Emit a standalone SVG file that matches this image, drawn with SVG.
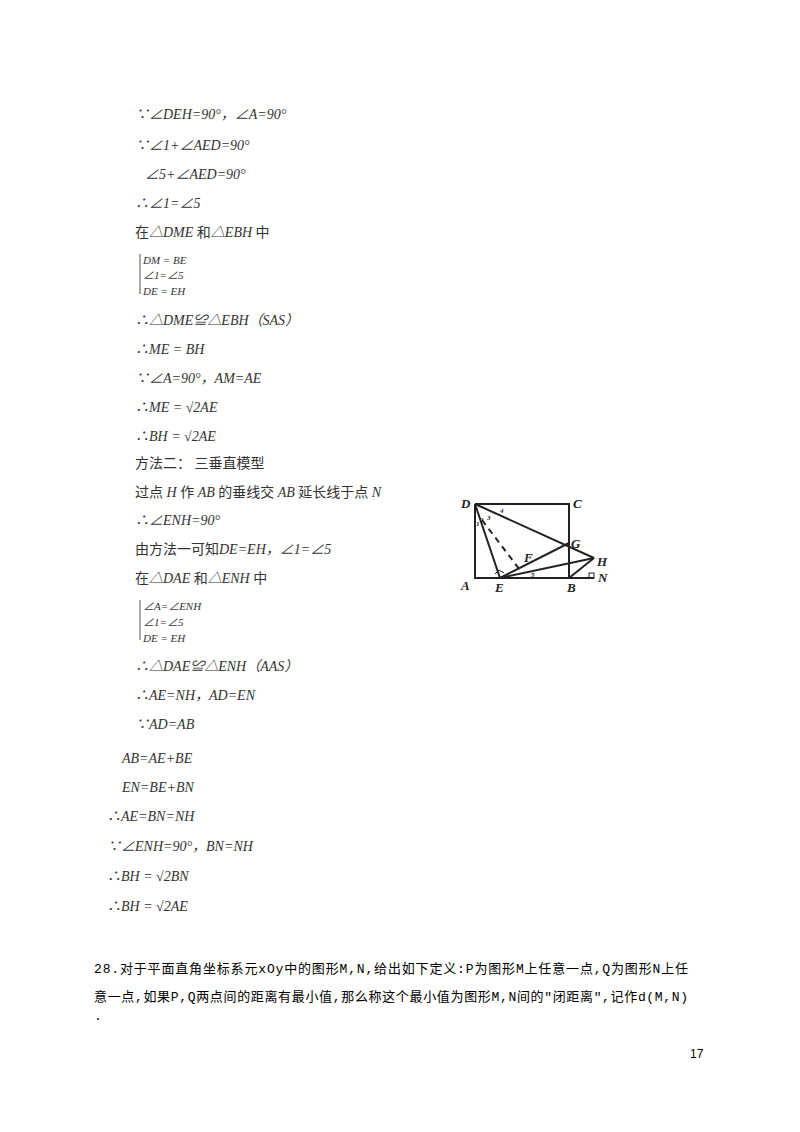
<svg xmlns="http://www.w3.org/2000/svg" width="800" height="1132" viewBox="0 0 800 1132">
<style>
text{font-family:"Liberation Serif","Noto Sans CJK SC",serif;font-size:14px;fill:#333}
.i{font-style:italic}
.s{font-size:11px}
.c{font-family:"Liberation Mono","Noto Sans CJK SC",monospace;font-size:13px;fill:#000}
.g line,.g polyline{stroke:#222;stroke-width:2;fill:none}
.l{font-family:"Liberation Serif",serif;font-style:italic;font-weight:bold;font-size:13px;fill:#222}
</style>
<rect width="800" height="1132" fill="#fff"/>
<g id="proof">
<text x="135" y="119" class="i">∵∠DEH=90°，∠A=90°</text>
<text x="135" y="150" class="i">∵∠1+∠AED=90°</text>
<text x="145" y="179" class="i">∠5+∠AED=90°</text>
<text x="135" y="208" class="i">∴∠1=∠5</text>
<text x="135" y="237">在<tspan class="i">△DME</tspan> 和<tspan class="i">△EBH</tspan> 中</text>
<path d="M140 254 v40" stroke="#555" fill="none"/>
<text x="143" y="264" class="i s">DM = BE</text>
<text x="143" y="279" class="i s">∠1=∠5</text>
<text x="143" y="295" class="i s">DE = EH</text>
<text x="135" y="325" class="i">∴△DME≌△EBH（SAS）</text>
<text x="135" y="354" class="i">∴ME = BH</text>
<text x="135" y="383" class="i">∵∠A=90°，AM=AE</text>
<text x="135" y="412" class="i">∴ME = √2AE</text>
<text x="135" y="441" class="i">∴BH = √2AE</text>
<text x="135" y="468">方法二：  三垂直模型</text>
<text x="135" y="497">过点 <tspan class="i">H</tspan> 作 <tspan class="i">AB</tspan> 的垂线交 <tspan class="i">AB</tspan> 延长线于点 <tspan class="i">N</tspan></text>
<text x="135" y="525" class="i">∴∠ENH=90°</text>
<text x="135" y="554">由方法一可知<tspan class="i">DE=EH，∠1=∠5</tspan></text>
<text x="135" y="583">在<tspan class="i">△DAE</tspan> 和<tspan class="i">△ENH</tspan> 中</text>
<path d="M140 600 v40" stroke="#555" fill="none"/>
<text x="143" y="610" class="i s">∠A=∠ENH</text>
<text x="143" y="626" class="i s">∠1=∠5</text>
<text x="143" y="642" class="i s">DE = EH</text>
<text x="135" y="671" class="i">∴△DAE≌△ENH（AAS）</text>
<text x="135" y="700" class="i">∴AE=NH，AD=EN</text>
<text x="135" y="729" class="i">∵AD=AB</text>
<text x="122" y="763" class="i">AB=AE+BE</text>
<text x="122" y="792" class="i">EN=BE+BN</text>
<text x="107" y="821" class="i">∴AE=BN=NH</text>
<text x="107" y="851" class="i">∵∠ENH=90°，BN=NH</text>
<text x="107" y="881" class="i">∴BH = √2BN</text>
<text x="107" y="911" class="i">∴BH = √2AE</text>
</g>
<g id="figure" class="g">
<polyline points="475,504 569,504 569,578 475,578 475,504"/>
<line x1="475" y1="504" x2="500" y2="578"/>
<line x1="475" y1="504" x2="594" y2="558"/>
<line x1="500" y1="578" x2="569" y2="543"/>
<line x1="500" y1="578" x2="594" y2="558"/>
<line x1="569" y1="578" x2="594" y2="558"/>
<line x1="569" y1="578" x2="594" y2="578"/>
<line x1="482" y1="520" x2="520" y2="570" stroke-dasharray="6,5"/>
<rect x="589" y="573" width="5" height="5" fill="none" stroke="#222" stroke-width="1"/>
<polyline points="495,574 499,570 504,573" style="stroke-width:1"/>
<text class="l" x="461" y="508">D</text>
<text class="l" x="573" y="508">C</text>
<text class="l" x="461" y="590">A</text>
<text class="l" x="495" y="592">E</text>
<text class="l" x="567" y="592">B</text>
<text class="l" x="571" y="548">G</text>
<text class="l" x="597" y="566">H</text>
<text class="l" x="598" y="582">N</text>
<text class="l" x="524" y="562">F</text>
<text class="l" x="500" y="513" style="font-size:7px">4</text>
<text class="l" x="487" y="520" style="font-size:7px">3</text>
<text class="l" x="480" y="522" style="font-size:7px">2</text>
<text class="l" x="476" y="526" style="font-size:7px">1</text>
<text class="l" x="531" y="577" style="font-size:7px">5</text>
</g>
<g id="q28">
<text x="94" y="973" class="c" textLength="594" lengthAdjust="spacing">28.对于平面直角坐标系元xOy中的图形M,N,给出如下定义:P为图形M上任意一点,Q为图形N上任</text>
<text x="94" y="1001" class="c" textLength="594" lengthAdjust="spacing">意一点,如果P,Q两点间的距离有最小值,那么称这个最小值为图形M,N间的"闭距离",记作d(M,N)</text>
<text x="94" y="1020" class="c">.</text>
<text x="690" y="1058" style="font-family:'Liberation Sans',sans-serif;font-size:12px;fill:#000">17</text>
</g>
</svg>
